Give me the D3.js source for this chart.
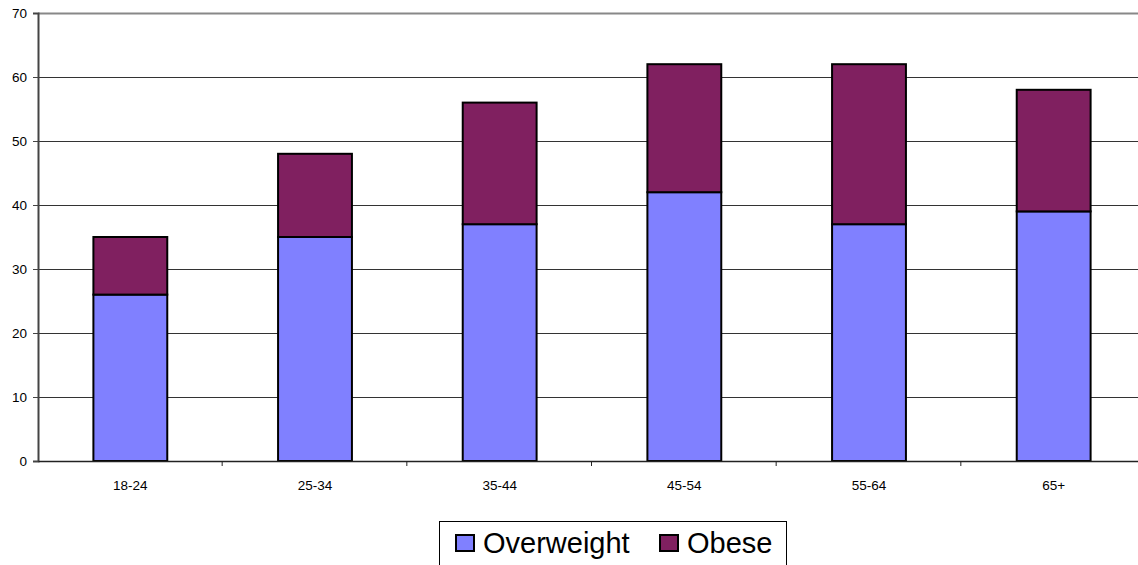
<!DOCTYPE html>
<html>
<head>
<meta charset="utf-8">
<script src="https://d3js.org/d3.v7.min.js"></script>
<style>
  body { margin: 0; background: #fff; }
  text { font-family: "Liberation Sans", Arial, sans-serif; }
</style>
</head>
<body>
<div id="chart"></div>
<script>
const categories = ["18-24", "25-34", "35-44", "45-54", "55-64", "65+"];
const overweight = [26, 35, 37, 42, 37, 39];
const obese = [9, 13, 19, 20, 25, 19];
const seriesNames = ["Overweight", "Obese"];
const colors = ["#8080ff", "#802060"];
const yTicks = [0, 10, 20, 30, 40, 50, 60, 70];

const width = 1138, height = 565;
const plotLeft = 38, plotTop = 13, plotRight = 1146, plotBottom = 461;

const svg = d3.select("#chart").append("svg")
    .attr("width", width)
    .attr("height", height);

const x = d3.scaleBand()
    .domain(categories)
    .range([plotLeft, plotRight])
    .paddingInner(0.6)
    .paddingOuter(0.3);

const y = d3.scaleLinear()
    .domain([0, 70])
    .range([plotBottom, plotTop]);

// gridlines
svg.append("g")
    .selectAll("line")
    .data(yTicks.filter(d => d > 0))
    .join("line")
    .attr("x1", plotLeft)
    .attr("x2", width)
    .attr("y1", d => y(d) + 0.5)
    .attr("y2", d => y(d) + 0.5)
    .attr("stroke", d => d === 70 ? "#888" : "#333")
    .attr("stroke-width", d => d === 70 ? 2 : 1);

// stacked data
const rows = categories.map((c, i) => ({ cat: c, Overweight: overweight[i], Obese: obese[i] }));
const stacked = d3.stack().keys(seriesNames)(rows);

svg.append("g")
    .selectAll("g")
    .data(stacked)
    .join("g")
    .attr("fill", (d, i) => colors[i])
    .selectAll("rect")
    .data(d => d)
    .join("rect")
    .attr("x", d => x(d.data.cat))
    .attr("y", d => y(d[1]))
    .attr("width", x.bandwidth())
    .attr("height", d => y(d[0]) - y(d[1]))
    .attr("stroke", "#000")
    .attr("stroke-width", 2);

// y axis
const yAxis = svg.append("g")
    .attr("transform", `translate(${plotLeft},0)`)
    .call(d3.axisLeft(y).tickValues(yTicks).tickSize(5).tickPadding(6));
yAxis.select(".domain").attr("stroke", "#444").attr("stroke-width", 2);
yAxis.selectAll(".tick line").attr("stroke", "#444");
yAxis.selectAll("text").attr("font-size", 13.5).attr("fill", "#000")
    .style("font-family", "'Liberation Sans', Arial, sans-serif");

// x axis
const xAxis = svg.append("g")
    .attr("transform", `translate(0,${plotBottom})`)
    .call(d3.axisBottom(x).tickSize(0).tickPadding(19));
xAxis.select(".domain").attr("stroke", "#222").attr("stroke-width", 1.5);
xAxis.selectAll("text").attr("font-size", 13.5).attr("fill", "#000")
    .style("font-family", "'Liberation Sans', Arial, sans-serif");

// ticks between categories
svg.append("g")
    .selectAll("line")
    .data(categories.slice(1))
    .join("line")
    .attr("x1", d => x(d) - x.step() * x.paddingInner() / 2 - 0.5)
    .attr("x2", d => x(d) - x.step() * x.paddingInner() / 2 - 0.5)
    .attr("y1", plotBottom)
    .attr("y2", plotBottom + 5)
    .attr("stroke", "#222");

// legend
const legend = svg.append("g");
legend.append("rect")
    .attr("x", 439.5).attr("y", 521.5)
    .attr("width", 347).attr("height", 60)
    .attr("fill", "#fff").attr("stroke", "#000");

const legendX = [456, 660];
seriesNames.forEach((name, i) => {
  legend.append("rect")
      .attr("x", legendX[i]).attr("y", 535)
      .attr("width", 18).attr("height", 16)
      .attr("fill", colors[i])
      .attr("stroke", "#000").attr("stroke-width", 2);
  legend.append("text")
      .attr("x", legendX[i] + 27).attr("y", 553)
      .attr("font-size", 29)
      .attr("fill", "#000")
      .text(name);
});
</script>
</body>
</html>
